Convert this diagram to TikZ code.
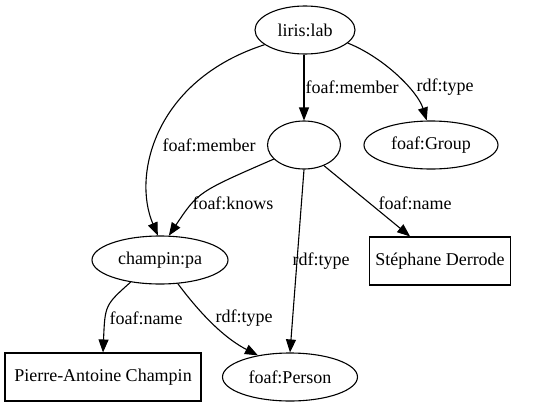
\documentclass[tikz,border=0pt]{standalone}
\usepackage{fontspec}
\setmainfont{Liberation Serif}
\usetikzlibrary{arrows.meta,shapes.geometric}
\begin{document}
\begin{tikzpicture}[x=1pt,y=-1pt,
  every node/.style={font=\fontsize{18}{21}\selectfont, inner sep=0pt},
  ell/.style={draw, ellipse, line width=1.1pt, minimum height=48pt},
  box/.style={draw, rectangle, line width=1.1pt, minimum height=48pt},
  edge/.style={line width=1.1pt, -{Triangle[length=13pt,width=10pt]}},
  lbl/.style={fill=none}]
\useasboundingbox (0,0) rectangle (538,407);
\node[ell, minimum width=100pt] (lab) at (305,30) {liris:lab};
\node[ell, minimum width=73pt] (blank) at (304,145) {};
\node[ell, minimum width=134pt] (grp) at (431,145) {foaf:Group};
\node[ell, minimum width=136pt] (pa) at (160,260) {champin:pa};
\node[box, minimum width=141pt] (der) at (440,261) {Stéphane Derrode};
\node[box, minimum width=196pt] (pier) at (103,377) {Pierre-Antoine Champin};
\node[ell, minimum width=135pt] (pers) at (290,377) {foaf:Person};

\draw[edge] (lab.south -| blank.north) -- (blank.north);
\draw[edge] (lab.343) .. controls (385,58) and (418,92) .. (grp.100);
\draw[edge] (lab.200) .. controls (155,80) and (132,175) .. (pa.95);
\draw[edge] (blank.205) .. controls (198,192) .. (pa.70);
\draw[edge] (blank.south) -- (pers.north);
\draw[edge] (blank.314) -- (der);
\draw[edge] (pa.217) .. controls (105,305) .. (pier.north);
\draw[edge] (pa.307) .. controls (205,320) and (228,340) .. (pers.146);

\node[lbl] (l1) at (352,87) {foaf:member};
\node[lbl] (l2) at (445,87) {rdf:type};
\node[lbl] (l3) at (209,145) {foaf:member};
\node[lbl] (l4) at (233,203) {foaf:knows};
\node[lbl] (l5) at (415,203) {foaf:name};
\node[lbl] (l6) at (321,261) {rdf:type};
\node[lbl] (l7) at (146,318) {foaf:name};
\node[lbl] (l8) at (244,318) {rdf:type};
\end{tikzpicture}
\end{document}
